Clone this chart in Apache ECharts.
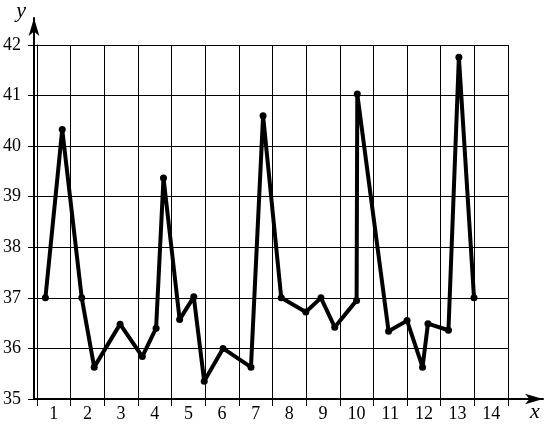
<!DOCTYPE html>
<html>
<head>
<meta charset="utf-8">
<script src="https://cdn.jsdelivr.net/npm/echarts@6/dist/echarts.min.js"></script>
<style>
	html, body { margin: 0; padding: 0; background: #fff; }
	#chart { width: 546px; height: 430px; }
</style>
</head>
<body>
<div id="chart"></div>
<script>
// подписи по оси x (дни) и пределы оси y
var dayLabels = ['1', '2', '3', '4', '5', '6', '7', '8', '9', '10', '11', '12', '13', '14'];
var yMin = 35;
var yMax = 42;
var yStep = 1;

// вершины ломаной: положение по x (в клетках) и значение y
var pointX = [0.25, 0.75, 1.33, 1.70, 2.47, 3.13, 3.54, 3.76, 4.24, 4.66, 4.97, 5.53, 6.36, 6.72,
	7.26, 7.99, 8.44, 8.85, 9.50, 9.52, 10.45, 11.0, 11.46, 11.62, 12.23, 12.54, 12.99];
var pointY = [37.0, 40.33, 37.0, 35.63, 36.48, 35.84, 36.4, 39.37, 36.57, 37.02, 35.35, 36.0, 35.63, 40.6,
	37.0, 36.72, 37.0, 36.42, 36.95, 41.03, 36.34, 36.55, 35.63, 36.49, 36.36, 41.76, 37.0];

var lineData = new Array();
for (var i in pointX) {
	lineData.push([pointX[i], pointY[i]]);
}

var font = "'Liberation Serif', 'Times New Roman', serif";
var chart = echarts.init(document.getElementById('chart'));

var options = {
	animation: false,
	backgroundColor: '#fff',
	grid: [
		{ left: 34, right: 38, top: 45, bottom: 31 },
		{ left: 34, right: 3, top: 13, bottom: 31 }
	],
	xAxis: [
		{
			type: 'category',
			gridIndex: 0,
			data: dayLabels,
			boundaryGap: true,
			axisLine: { show: true, lineStyle: { color: '#000', width: 1 } },
			axisTick: { show: true, length: 7, lineStyle: { color: '#000', width: 1 } },
			axisLabel: { color: '#000', fontFamily: font, fontSize: 18, margin: 6 },
			splitLine: { show: true, lineStyle: { color: '#000', width: 1 } }
		},
		{
			type: 'value',
			gridIndex: 0,
			min: 0,
			max: 14,
			show: false
		},
		{
			type: 'value',
			gridIndex: 1,
			min: 0,
			max: 1,
			name: 'x',
			nameLocation: 'end',
			nameGap: -8,
			nameTextStyle: { color: '#000', fontFamily: font, fontSize: 22, fontStyle: 'italic', align: 'center', verticalAlign: 'top', padding: [2, 0, 0, 0] },
			axisLine: { show: true, symbol: ['none', 'arrow'], symbolSize: [8, 18], lineStyle: { color: '#000', width: 2 } },
			axisTick: { show: false },
			axisLabel: { show: false },
			splitLine: { show: false }
		}
	],
	yAxis: [
		{
			type: 'value',
			gridIndex: 0,
			min: yMin,
			max: yMax,
			interval: yStep,
			axisLine: { show: true, lineStyle: { color: '#000', width: 1 } },
			axisTick: { show: true, length: 9, lineStyle: { color: '#000', width: 1 } },
			axisLabel: { color: '#000', fontFamily: font, fontSize: 18, margin: 16 },
			splitLine: { show: true, lineStyle: { color: '#000', width: 1 } }
		},
		{
			type: 'value',
			gridIndex: 1,
			min: 0,
			max: 1,
			name: 'y',
			nameLocation: 'end',
			nameGap: -4,
			nameTextStyle: { color: '#000', fontFamily: font, fontSize: 22, fontStyle: 'italic', align: 'right', verticalAlign: 'bottom', padding: [0, 8, 0, 0] },
			axisLine: { show: true, symbol: ['none', 'arrow'], symbolSize: [8, 18], lineStyle: { color: '#000', width: 2 } },
			axisTick: { show: false },
			axisLabel: { show: false },
			splitLine: { show: false }
		}
	],
	series: [
		{
			type: 'line',
			xAxisIndex: 1,
			yAxisIndex: 0,
			data: lineData,
			symbol: 'circle',
			symbolSize: 7,
			showSymbol: true,
			itemStyle: { color: '#000' },
			lineStyle: { color: '#000', width: 4 }
		}
	]
};

chart.setOption(options);
</script>
</body>
</html>
